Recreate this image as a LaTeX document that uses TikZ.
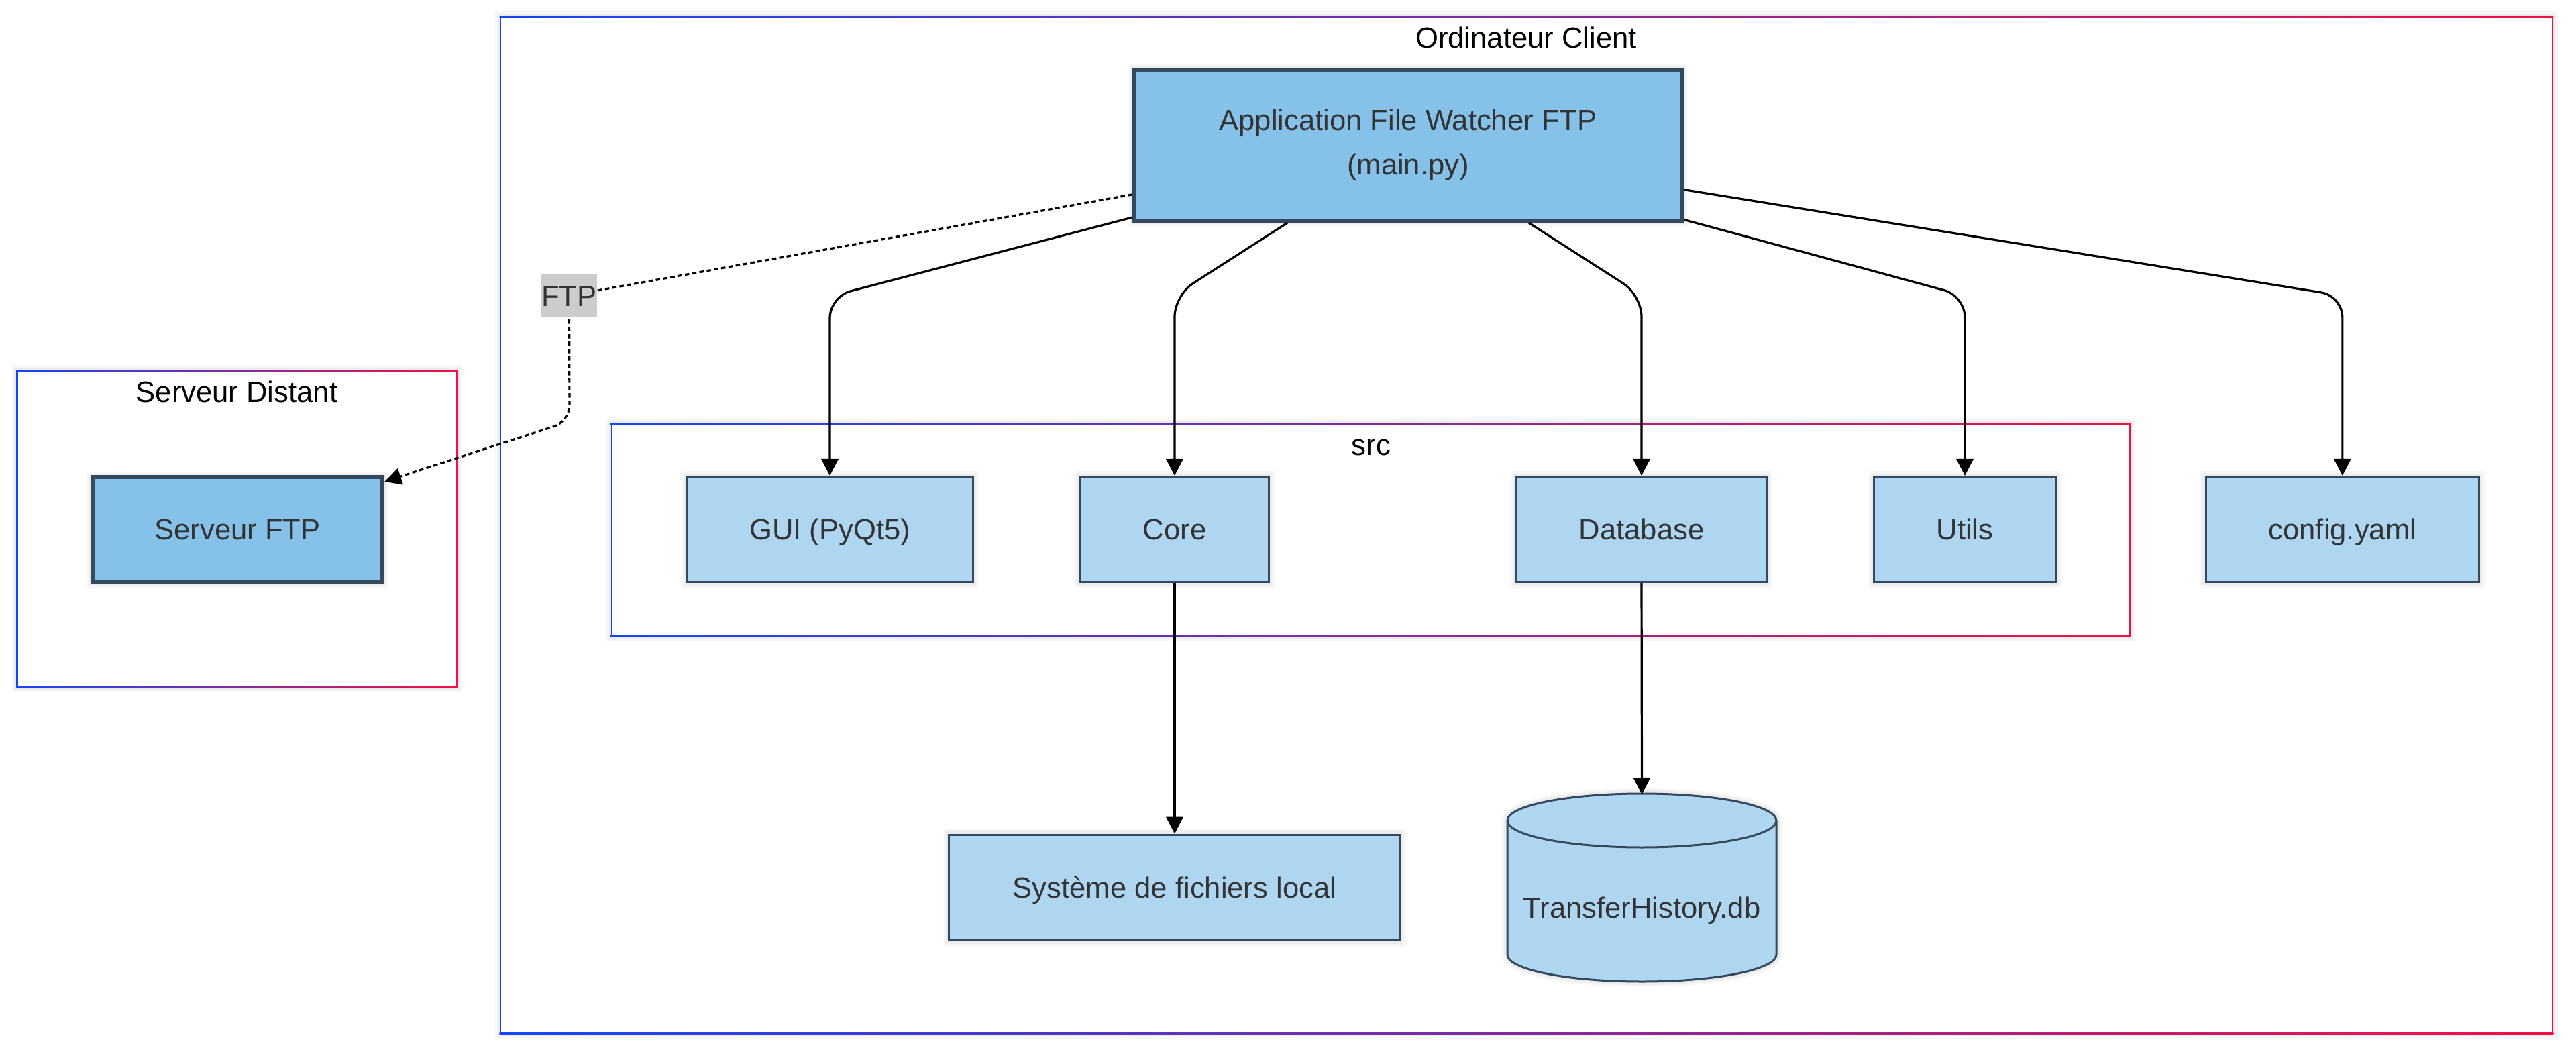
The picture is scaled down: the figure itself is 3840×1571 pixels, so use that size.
\documentclass[tikz,border=0pt]{standalone}
\usepackage{fontspec}
\setmainfont{Liberation Sans}
\usetikzlibrary{arrows.meta,calc}
\definecolor{cblue}{RGB}{20,70,245}
\definecolor{cred}{RGB}{240,16,70}
\definecolor{nfill}{RGB}{174,214,241}
\definecolor{mfill}{RGB}{133,193,233}
\definecolor{nborder}{RGB}{52,73,94}
\definecolor{ntext}{RGB}{51,51,51}
\definecolor{lblgray}{RGB}{204,204,204}
\newcommand{\gradbox}[4]{%
  \draw[black,draw opacity=0.035,line width=4pt] (#1,#2) rectangle (#3,#4);
  \draw[black,draw opacity=0.04,line width=2.2pt] (#1,#2) rectangle (#3,#4);
  \fill[white] (#1,#2) rectangle (#3,#4);
  \shade[left color=cblue,right color=cred] ({#1-1.3},{#2-1.3}) rectangle ({#3+1.3},{#2+1.3});
  \shade[left color=cblue,right color=cred] ({#1-1.3},{#4-1.3}) rectangle ({#3+1.3},{#4+1.3});
  \fill[cblue] ({#1-1.3},{#2-1.3}) rectangle ({#1+1.3},{#4+1.3});
  \fill[cred] ({#3-1.3},{#2-1.3}) rectangle ({#3+1.3},{#4+1.3});
}
\begin{document}
\begin{tikzpicture}[x=0.25pt,y=-0.25pt,
  halo/.style={preaction={draw=black,draw opacity=0.035,line width=4pt},
               preaction={draw=black,draw opacity=0.04,line width=2.4pt}},
  basefont/.style={font=\fontsize{10.9}{13}\selectfont},
  boxbase/.style={rectangle,draw=nborder,fill=nfill,line width=0.75pt,text=ntext,inner sep=0pt,halo},
  box/.style={boxbase,basefont,text height=7.8pt,text depth=0pt},
  mainbox/.style={boxbase,fill=mfill,line width=1.6pt,align=center,font=\fontsize{10.9}{16.5}\selectfont},
  cltitle/.style={basefont,text=black,inner sep=0pt,anchor=base},
  edge/.style={draw=black,line width=0.8pt,-{Triangle[length=6.25pt,width=6.25pt]},rounded corners=8pt},
  dotedge/.style={edge,dash pattern=on 1.65pt off 1.1pt,rounded corners=6pt},
  lbl/.style={basefont,fill=lblgray,text=ntext,inner sep=0pt,minimum width=20.25pt,minimum height=16.25pt,text height=7.8pt,text depth=0pt}
]
\useasboundingbox (0,0) rectangle (3840,1571);

% clusters
\gradbox{746}{25.5}{3805}{1540}
\gradbox{912}{632}{3175}{948}
\gradbox{25.5}{552.5}{681}{1023.5}

\node[cltitle] (tclient) at (2275,72) {Ordinateur Client};
\node[cltitle] (tsrc) at (2044,679) {src};
\node[cltitle] (tdist) at (353,600) {Serveur Distant};

% nodes
\node[mainbox,minimum width=204pt,minimum height=56.25pt] (main) at (2099,216.5) {Application File Watcher FTP\\(main.py)};
\node[box,fill=mfill,line width=1.6pt,minimum width=108pt,minimum height=39.15pt] (srvftp) at (354,789.3) {Serveur FTP};
\node[box,minimum width=106.6pt,minimum height=39.25pt] (gui) at (1237,789) {GUI (PyQt5)};
\node[box,minimum width=70.25pt,minimum height=39.25pt] (core) at (1751,789) {Core};
\node[box,minimum width=93.25pt,minimum height=39.25pt] (database) at (2447,789) {Database};
\node[box,minimum width=67.75pt,minimum height=39.25pt] (utils) at (2929,789) {Utils};
\node[box,minimum width=101.9pt,minimum height=39.25pt] (config) at (3491.8,789) {config.yaml};
\node[box,minimum width=168.25pt,minimum height=39.4pt] (sys) at (1751,1323) {Système de fichiers local};

% cylinder
\path[fill=nfill,draw=nborder,line width=0.75pt,halo]
  (2247,1223) -- (2247,1423)
  arc[start angle=180,end angle=360,x radius=50.125pt,y radius=10pt]
  -- (2648,1223)
  arc[start angle=0,end angle=180,x radius=50.125pt,y radius=10pt] -- cycle;
\draw[draw=nborder,line width=0.75pt] (2247,1223)
  arc[start angle=180,end angle=360,x radius=50.125pt,y radius=10pt];
\node[basefont,text=ntext,inner sep=0pt,text height=7.8pt,text depth=0pt] (hist) at (2447.5,1353) {TransferHistory.db};
\coordinate (histtop) at (2447.5,1184);

% edges
\draw[edge] (main) -- (1237,442) -- (gui.north);
\draw[edge] (main) -- (1751,440) -- (core.north);
\draw[edge] (main) -- (2447,440) -- (database.north);
\draw[edge] (main) -- (2929,441) -- (utils.north);
\draw[edge] (main) -- (3491.8,441) -- (config.north);
\draw[edge] (core.south) -- (sys.north);
\draw[edge] (database.south) -- (histtop);

\coordinate (ftpc) at (848.5,440.5);
\draw[dotedge] (main) -- (ftpc) -- (849,628) -- (srvftp);
\node[lbl] (ftplbl) at (ftpc) {FTP};
\end{tikzpicture}
\end{document}
